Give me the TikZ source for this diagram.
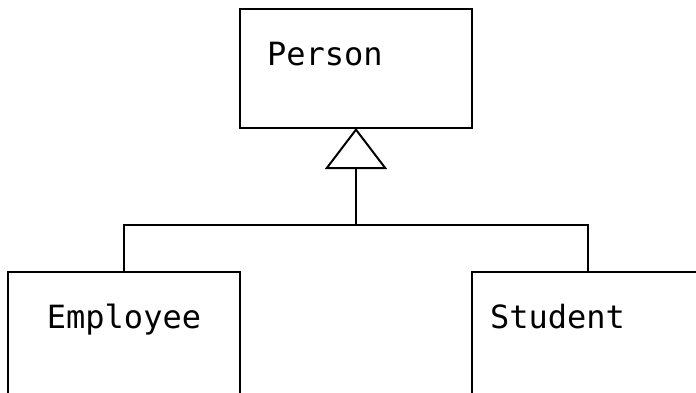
\documentclass[tikz,border=0pt]{standalone}
\usepackage{fontspec}
\setmonofont{DejaVu Sans Mono}
\usetikzlibrary{positioning,arrows.meta}
\tikzstyle{block} = [rectangle, draw, line width=2pt, outer sep=0pt, inner ysep=0pt,
    font=\ttfamily\fontsize{32}{38}\selectfont, text height=56pt, text depth=74pt]
\tikzstyle{line} = [draw, line width=2pt]
\tikzstyle{inherit} = [line, -{Triangle[open, length=41pt, width=62pt]}]

\begin{document}
\begin{tikzpicture}[node distance=144pt]
		\useasboundingbox (0,0) rectangle (696pt,-392pt);
		\clip (0,0) rectangle (696pt,-392pt);
		\node [block, anchor=north, inner xsep=27pt, text width=178pt, align=left, text depth=63pt] (person) at (356pt,-9pt) {Person};
		\node [block, below=of person, xshift=-232pt, inner xsep=10pt, text width=212pt, align=center] (employee) {Employee};
		\node [block, below=of person, xshift=232pt, inner xsep=18pt, text width=196pt, align=left] (student) {Student};
		\coordinate [below=97pt of person] (joint);

		\path [line] (employee.north) |- (joint) -| (student.north);
		\path [inherit] (joint) -- (person.south);
	\end{tikzpicture}
\end{document}
